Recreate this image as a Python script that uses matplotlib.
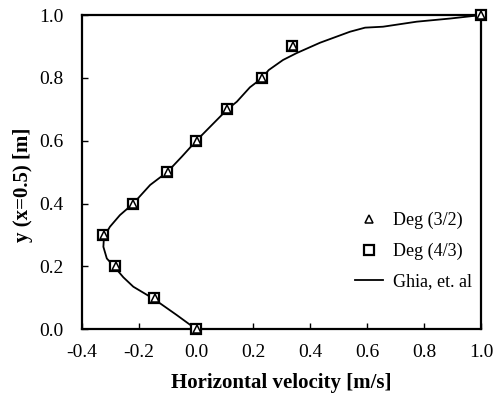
import numpy as np
import matplotlib
matplotlib.use("Agg")
import matplotlib.pyplot as plt

# Ghia et al. reference curve (u along x=0.5)
ghia_y = [0.0, 0.045, 0.096, 0.135, 0.165, 0.195, 0.225, 0.262, 0.294, 0.326, 0.363,
          0.40, 0.459, 0.501, 0.549, 0.599, 0.644, 0.70, 0.724, 0.77, 0.799,
          0.825, 0.857, 0.879, 0.912, 0.947, 0.960, 0.963, 0.979, 0.989, 1.0]
ghia_u = [0.0, -0.068, -0.148, -0.22, -0.255, -0.283, -0.313, -0.325, -0.323, -0.302, -0.267,
          -0.22, -0.161, -0.10, -0.05, 0.0, 0.049, 0.11, 0.143, 0.189, 0.231,
          0.255, 0.305, 0.353, 0.435, 0.540, 0.593, 0.656, 0.774, 0.891, 1.0]

# computed points
pts_y = [0.0, 0.1, 0.2, 0.3, 0.4, 0.5, 0.6, 0.7, 0.8, 0.9, 1.0]
deg32_u = [0.002, -0.145, -0.281, -0.323, -0.220, -0.100, 0.002, 0.110, 0.233, 0.339, 1.0]
deg43_u = [0.0, -0.147, -0.283, -0.325, -0.222, -0.102, 0.0, 0.108, 0.230, 0.337, 1.0]

plt.rcParams['font.family'] = ['Liberation Serif', 'DejaVu Serif']

fig = plt.figure(figsize=(4.97, 3.97), dpi=100)
ax = fig.add_axes([0.165, 0.171, 0.803, 0.791])

ax.plot(ghia_u, ghia_y, color="black", lw=1.3, label="Ghia, et. al", zorder=2)
ax.plot(deg43_u, pts_y, ls="none", marker="s", ms=7.2, mfc="white", mec="black",
        mew=1.6, label="Deg (4/3)", zorder=3, clip_on=False)
ax.plot(deg32_u, pts_y, ls="none", marker="^", ms=5.5, mfc="white", mec="black",
        mew=1.1, label="Deg (3/2)", zorder=4, clip_on=False)

ax.set_xlim(-0.4, 1.0)
ax.set_ylim(0.0, 1.0)
ax.set_xticks(np.arange(-0.4, 1.01, 0.2))
ax.set_yticks(np.arange(0.0, 1.01, 0.2))
ax.set_xticklabels([f"{v:.1f}" for v in np.arange(-0.4, 1.01, 0.2)])
ax.set_yticklabels([f"{v:.1f}" for v in np.arange(0.0, 1.01, 0.2)])
ax.tick_params(direction="in", length=4, width=1, labelsize=14)
ax.tick_params(axis="x", pad=11)
ax.tick_params(axis="y", pad=13.5)
for s in ax.spines.values():
    s.set_linewidth(1.6)

ax.set_xlabel("Horizontal velocity [m/s]", fontsize=15, fontweight="bold")
ax.set_ylabel("y (x=0.5) [m]", fontsize=15, fontweight="bold")
ax.xaxis.set_label_coords(0.5, -0.140)
ax.yaxis.set_label_coords(-0.123, 0.459)

h, l = ax.get_legend_handles_labels()
order = [2, 1, 0]
ax.legend([h[i] for i in order], [l[i] for i in order], loc="upper left",
          frameon=False, fontsize=13, handlelength=1.55, handletextpad=0.55,
          labelspacing=0.74, borderpad=0, borderaxespad=0,
          bbox_to_anchor=(0.684, 0.373))

fig.savefig("out.png", dpi=100)
